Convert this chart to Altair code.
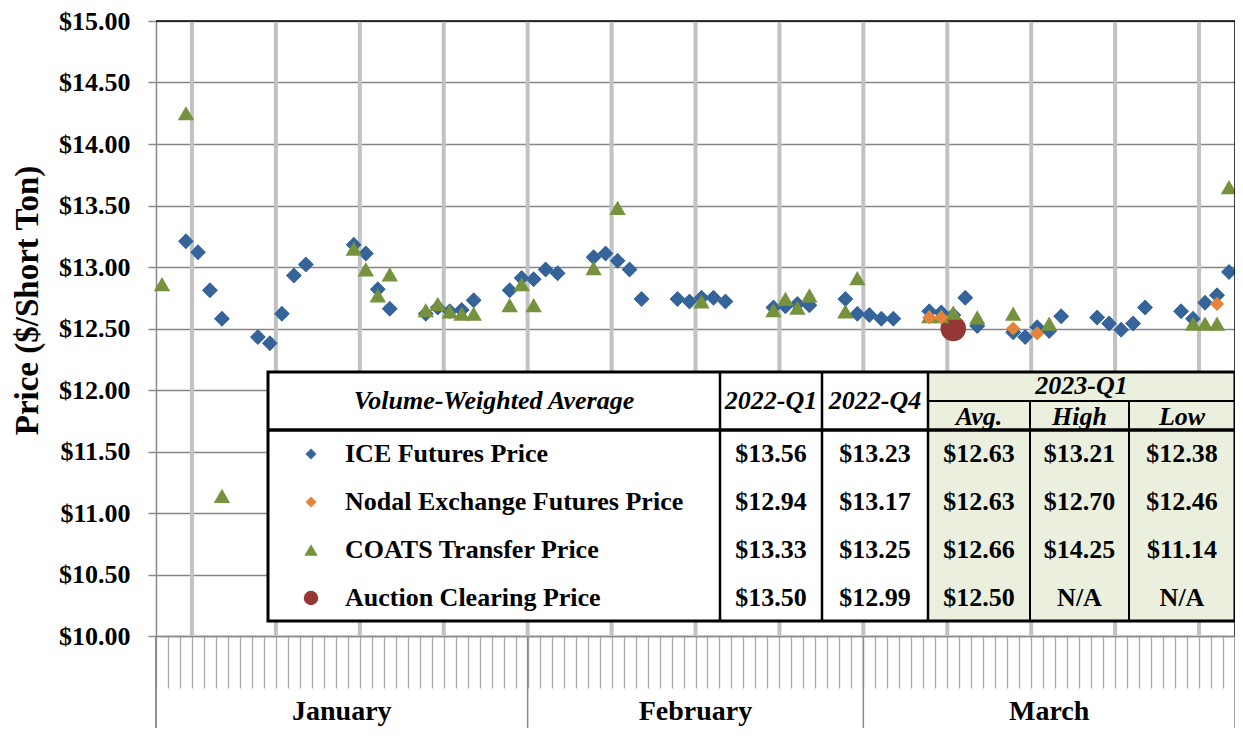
import altair as alt
import pandas as pd

SERIF = "Liberation Serif"

# ---------------- data (day of Q1 2023, 1 = Jan 1) ----------------
ice_day = [3, 4, 5, 6, 9, 10, 11, 12, 13, 17, 18, 19, 20, 23, 24, 25, 26, 27, 30, 31,
           32, 33, 34, 37, 38, 39, 40, 41, 44, 45, 46, 47, 48, 52, 53, 54, 55, 58, 59,
           60, 61, 62, 65, 66, 67, 68, 69, 72, 73, 74, 75, 76, 79, 80, 81, 82, 83,
           86, 87, 88, 89, 90]
ice_price = [13.21, 13.12, 12.81, 12.58, 12.43, 12.38, 12.62, 12.93, 13.02,
             13.18, 13.11, 12.82, 12.66, 12.62, 12.67, 12.64, 12.65, 12.73, 12.81, 12.91,
             12.90, 12.98, 12.95, 13.08, 13.11, 13.05, 12.98, 12.74,
             12.74, 12.72, 12.75, 12.75, 12.72, 12.67, 12.68, 12.70, 12.69, 12.74, 12.62,
             12.61, 12.58, 12.58, 12.64, 12.63, 12.61, 12.75, 12.52,
             12.47, 12.43, 12.51, 12.48, 12.60, 12.59, 12.54, 12.49, 12.54, 12.67,
             12.64, 12.58, 12.71, 12.77, 12.96]

nodal_day = [65, 66, 72, 74, 89]
nodal_price = [12.59, 12.59, 12.50, 12.46, 12.70]

coats_day = [1, 3, 6, 17, 18, 19, 20, 23, 24, 25, 26, 27, 30, 31, 32, 37, 39, 46,
             52, 53, 54, 55, 58, 59, 65, 66, 67, 69, 72, 75, 87, 88, 89, 90]
coats_price = [12.86, 14.25, 11.14, 13.15, 12.98, 12.77, 12.94, 12.65, 12.70, 12.64,
               12.62, 12.62, 12.69, 12.86, 12.69, 12.99, 13.48, 12.72,
               12.65, 12.74, 12.67, 12.77, 12.64, 12.91, 12.60, 12.60, 12.63, 12.59,
               12.62, 12.54, 12.54, 12.54, 12.54, 13.65]

auction_day = [67]
auction_price = [12.50]

month_names = ["January", "February", "March"]
month_start = [0, 31, 59]
month_end = [31, 59, 90]

series_names = ["ICE Futures Price", "Nodal Exchange Futures Price",
                "COATS Transfer Price", "Auction Clearing Price"]
val_2022q1 = ["$13.56", "$12.94", "$13.33", "$13.50"]
val_2022q4 = ["$13.23", "$13.17", "$13.25", "$12.99"]
val_2023avg = ["$12.63", "$12.63", "$12.66", "$12.50"]
val_2023high = ["$13.21", "$12.70", "$14.25", "N/A"]
val_2023low = ["$12.38", "$12.46", "$11.14", "N/A"]

# ---------------- styling ----------------
W, H = 1079, 615
BLUE, ORANGE, GREEN, RED = "#35649B", "#E3843A", "#76923C", "#953735"
PALE = "#EBEFDE"

xscale = alt.Scale(domain=[0, 90], nice=False, zero=False)
yscale = alt.Scale(domain=[10, 15], nice=False, zero=False)
dummy = pd.DataFrame({"a": [0]})

x_axis = alt.Axis(values=list(range(0, 91)), tickSize=52, labels=False, grid=False,
                  domainColor="#8a8a8a", domainWidth=1.5, tickColor="#a8a8a8",
                  tickWidth=1.3, title=None)
y_axis = alt.Axis(values=[10 + 0.5 * i for i in range(11)], format="$.2f",
                  labelFont=SERIF, labelFontSize=26, labelFontWeight="bold",
                  labelColor="black", labelPadding=18, tickSize=8, tickColor="#8a8a8a",
                  tickWidth=1.5, domainColor="#8a8a8a", domainWidth=1.5,
                  grid=True, gridColor="#868686", gridWidth=1.5,
                  title="Price ($/Short Ton)", titleFont=SERIF, titleFontSize=33,
                  titleFontWeight="bold", titleColor="black", titleAngle=-90,
                  titleAlign="center", titleBaseline="middle", titleX=-129, titleY=279)

X_ENC = dict(scale=xscale, axis=x_axis)
Y_ENC = dict(scale=yscale, axis=y_axis)


def points(days, prices, shape, color, size):
    df = pd.DataFrame({"day": days, "price": prices})
    return (alt.Chart(df)
            .transform_calculate(xpos="datum.day - 0.5")
            .mark_point(shape=shape, filled=True, fill=color, size=size, opacity=1,
                        strokeWidth=0)
            .encode(x=alt.X("xpos:Q", **X_ENC), y=alt.Y("price:Q", **Y_ENC)))


def vrule(x, y1, y2, color, sw):
    return alt.Chart(dummy).mark_rule(color=color, strokeWidth=sw).encode(
        x=alt.value(x), y=alt.value(y1), y2=alt.value(y2))


def hrule(y, x1, x2, color, sw):
    return alt.Chart(dummy).mark_rule(color=color, strokeWidth=sw).encode(
        x=alt.value(x1), x2=alt.value(x2), y=alt.value(y))


def box(x1, x2, y1, y2, **kw):
    return alt.Chart(dummy).mark_rect(**kw).encode(
        x=alt.value(x1), x2=alt.value(x2), y=alt.value(y1), y2=alt.value(y2))


def txt(s, x, y, size=26, italic=False, align="center"):
    return alt.Chart(dummy).mark_text(
        font=SERIF, fontSize=size, fontWeight="bold",
        fontStyle="italic" if italic else "normal", align=align, baseline="middle",
        color="black").encode(x=alt.value(x), y=alt.value(y), text=alt.value(s))


layers = []

# ICE points first: carries the axes
layers.append(points(ice_day, ice_price, "diamond", BLUE, 240))

# weekly vertical gridlines
week_df = pd.DataFrame({"day": list(range(3, 90, 7))})
layers.append(alt.Chart(week_df).mark_rule(color="#c2c2c2", strokeWidth=4).encode(
    x=alt.X("day:Q", **X_ENC), y=alt.value(0), y2=alt.value(H)))

# month separators below the plot and month labels
sep_df = pd.DataFrame({"day": month_start + [month_end[-1]]})
layers.append(alt.Chart(sep_df).mark_rule(color="#8a8a8a", strokeWidth=1.5).encode(
    x=alt.X("day:Q", **X_ENC), y=alt.value(H), y2=alt.value(H + 110)))
mon_df = pd.DataFrame({"month": month_names, "start": month_start, "end": month_end})
layers.append(alt.Chart(mon_df)
              .transform_calculate(mid="(datum.start + datum.end) / 2")
              .mark_text(font=SERIF, fontSize=28, fontWeight="bold", color="black",
                         baseline="middle")
              .encode(x=alt.X("mid:Q", **X_ENC), y=alt.value(691), text="month:N"))

# ---------------- summary table ----------------
TX1, TX2, TY1, TY2 = 112, W, 351, 600
col_x = [564, 666, 772, 874, 973]
HEAD_Y = 409
SUB_Y = 380
row_y = [433, 481, 529, 577]

layers.append(box(TX1, TX2, TY1, TY2, fill="white"))
layers.append(box(col_x[2], TX2, TY1, TY2, fill=PALE))

# data points over the grid (ICE again on top of gridlines)
layers.append(points(ice_day, ice_price, "diamond", BLUE, 240))
layers.append(points(auction_day, auction_price, "circle", RED, 650))
layers.append(points(coats_day, coats_price, "triangle-up", GREEN, 270))
layers.append(points(nodal_day, nodal_price, "diamond", ORANGE, 200))

layers.append(box(TX1, TX2, TY1, TY2, fillOpacity=0, stroke="black", strokeWidth=3))
layers.append(hrule(HEAD_Y, TX1, TX2, "black", 3.5))
layers.append(hrule(SUB_Y, col_x[2], TX2, "black", 2))
for cx in col_x[:3]:
    layers.append(vrule(cx, TY1, TY2, "black", 2.5))
for cx in col_x[3:]:
    layers.append(vrule(cx, SUB_Y, TY2, "black", 2))

# headers
layers.append(txt("Volume-Weighted Average", (TX1 + col_x[0]) / 2, 380, italic=True))
layers.append(txt("2022-Q1", (col_x[0] + col_x[1]) / 2, 380, italic=True))
layers.append(txt("2022-Q4", (col_x[1] + col_x[2]) / 2, 380, italic=True))
layers.append(txt("2023-Q1", (col_x[2] + TX2) / 2, 365, italic=True))
layers.append(txt("Avg.", (col_x[2] + col_x[3]) / 2, 396, italic=True))
layers.append(txt("High", (col_x[3] + col_x[4]) / 2, 396, italic=True))
layers.append(txt("Low", (col_x[4] + TX2) / 2, 396, italic=True))

# legend markers + rows
marker_styles = [("diamond", BLUE, 120), ("diamond", ORANGE, 120),
                 ("triangle-up", GREEN, 180), ("circle", RED, 210)]
value_cols = [val_2022q1, val_2022q4, val_2023avg, val_2023high, val_2023low]
col_centers = [(col_x[0] + col_x[1]) / 2, (col_x[1] + col_x[2]) / 2,
               (col_x[2] + col_x[3]) / 2, (col_x[3] + col_x[4]) / 2,
               (col_x[4] + TX2) / 2]
for i, name in enumerate(series_names):
    shape, color, size = marker_styles[i]
    layers.append(alt.Chart(dummy).mark_point(shape=shape, filled=True, fill=color,
                                              size=size, opacity=1, strokeWidth=0)
                  .encode(x=alt.value(155), y=alt.value(row_y[i])))
    layers.append(txt(name, 189, row_y[i], align="left"))
    for vals, cx in zip(value_cols, col_centers):
        layers.append(txt(vals[i], cx, row_y[i]))

# plot frame
layers.append(hrule(0, 0, W, "black", 1.5))
layers.append(vrule(W, 0, H, "black", 1.5))
layers.append(vrule(0, H, H + 110, "#8a8a8a", 1.5))

chart = (alt.layer(*layers)
         .properties(width=W, height=H, autosize=alt.AutoSizeParams(type="none"),
                     padding={"left": 148, "top": 13, "right": 0, "bottom": 92},
                     background="white")
         .configure_view(stroke=None)
         .configure(font=SERIF))

chart.save("out.html", embed_options={"renderer": "svg", "actions": False})
